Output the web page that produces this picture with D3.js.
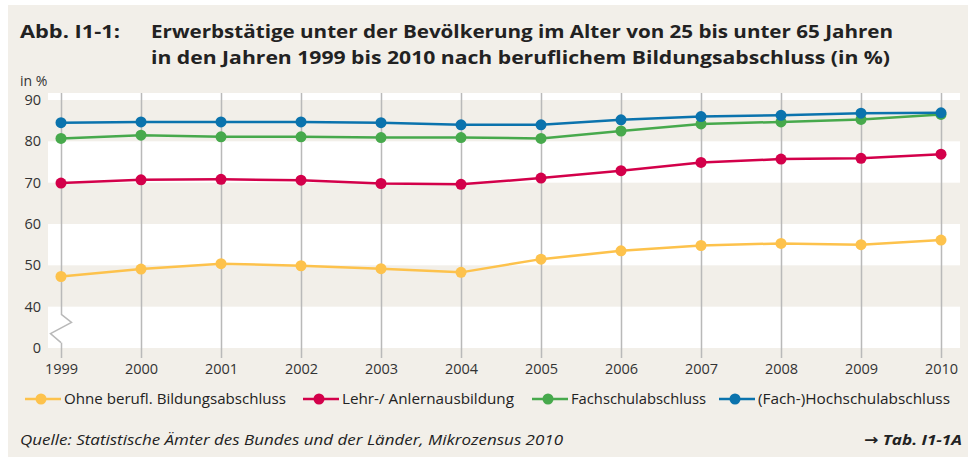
<!DOCTYPE html>
<html><head><meta charset="utf-8">
<script src="https://cdn.jsdelivr.net/npm/d3@7"></script>
<style>html,body{margin:0;padding:0;background:#fff}svg{display:block}</style>
</head><body>
<script>
const years = [1999,2000,2001,2002,2003,2004,2005,2006,2007,2008,2009,2010];
const ohne  = [47.3,49.1,50.4,49.9,49.2,48.3,51.5,53.5,54.8,55.3,55.0,56.1];
const lehr  = [69.9,70.7,70.8,70.6,69.8,69.6,71.1,72.9,74.9,75.7,75.9,76.9];
const fach  = [80.7,81.5,81.1,81.1,80.9,80.9,80.7,82.5,84.2,84.7,85.3,86.5];
const hoch  = [84.5,84.7,84.7,84.7,84.5,84.0,84.0,85.2,86.0,86.3,86.8,86.9];
const seriesNames = ["Ohne berufl. Bildungsabschluss","Lehr-/ Anlernausbildung","Fachschulabschluss","(Fach-)Hochschulabschluss"];
const seriesColors = ["#fdc24c","#d3004a","#47a94c","#0b73ad"];
const yTickValues = [30,40,50,60,70,80,90];           // 30 = broken-axis position labelled "0"
const yTickLabels = ["0","40","50","60","70","80","90"];
const titleLabel = "Abb. I1-1:";
const titleLines = ["Erwerbstätige unter der Bevölkerung im Alter von 25 bis unter 65 Jahren",
                    "in den Jahren 1999 bis 2010 nach beruflichem Bildungsabschluss (in %)"];
const sourceText = "Quelle: Statistische Ämter des Bundes und der Länder, Mikrozensus 2010";
const refText = "→ Tab. I1-1A";

const W = 968, H = 457;
const font = "'Open Sans', 'DejaVu Sans', sans-serif";
const svg = d3.select("body").append("svg").attr("width", W).attr("height", H);
svg.append("rect").attr("x",8).attr("y",5).attr("width",W-8).attr("height",H-5).attr("fill","#f2efe9");

const x = d3.scalePoint().domain(years).range([61, 941]);
const y = d3.scaleLinear().domain([30, 90]).range([348, 100]);
const plotL = 48, plotR = 960, plotTop = y(91.7), plotBot = y(30);

// title
const t = svg.append("g").attr("font-family", font).attr("font-weight", 700).attr("fill", "#222").attr("font-size", 18);
t.append("text").attr("x",20).attr("y",38).attr("textLength",100).attr("lengthAdjust","spacingAndGlyphs").text(titleLabel);
t.append("text").attr("x",151).attr("y",38).attr("textLength",742).attr("lengthAdjust","spacingAndGlyphs").text(titleLines[0]);
t.append("text").attr("x",151).attr("y",64).attr("textLength",739).attr("lengthAdjust","spacingAndGlyphs").text(titleLines[1]);

svg.append("text").attr("x",20).attr("y",86).attr("font-family",font).attr("font-size",14).attr("fill","#333").text("in %");

// bands
svg.append("rect").attr("x",plotL).attr("y",plotTop).attr("width",plotR-plotL).attr("height",plotBot-plotTop).attr("fill","#fff");
[[80,90],[60,70],[40,50]].forEach(b=>{
  svg.append("rect").attr("x",plotL).attr("y",y(b[1])).attr("width",plotR-plotL).attr("height",y(b[0])-y(b[1])).attr("fill","#f2efe9");
});

// vertical grid lines (x axis)
const xAxis = d3.axisBottom(x).tickSize(plotBot - plotTop + 10).tickPadding(6);
const gx = svg.append("g").attr("transform",`translate(0,${plotTop})`).call(xAxis);
gx.select(".domain").remove();
gx.selectAll(".tick line").attr("stroke","#b9b9b9").attr("stroke-width",1.5);
gx.selectAll(".tick text").attr("font-family",font).attr("font-size",14.5).attr("fill","#333");

// broken axis marker on 1999 line
const x0 = x(years[0]);
svg.append("rect").attr("x",x0-2).attr("y",y(38.2)).attr("width",4).attr("height",y(31.3)-y(38.2)).attr("fill","#fff");
svg.append("path").attr("fill","none").attr("stroke","#b9b9b9").attr("stroke-width",1.5)
  .attr("d",`M${x0},${y(38.2)}L${x0+10.5},${y(36.2)}L${x0-10.5},${y(33.5)}L${x0},${y(31.3)}`);

// y axis labels
const yAxis = d3.axisLeft(y).tickValues(yTickValues).tickSize(0).tickPadding(0).tickFormat((d,i)=>yTickLabels[i]);
const gy = svg.append("g").attr("transform","translate(41,0)").call(yAxis);
gy.select(".domain").remove();
gy.selectAll(".tick text").attr("font-family",font).attr("font-size",14.5).attr("fill","#333");

// lines
const allSeries = [ohne, lehr, fach, hoch];
const line = d3.line().x((d,i)=>x(years[i])).y(d=>y(d));
allSeries.forEach((s,k)=>{
  const g = svg.append("g");
  g.append("path").datum(s).attr("d",line).attr("fill","none").attr("stroke",seriesColors[k]).attr("stroke-width",2.5);
  g.selectAll("circle").data(s).join("circle").attr("cx",(d,i)=>x(years[i])).attr("cy",d=>y(d)).attr("r",5.5).attr("fill",seriesColors[k]);
});

// legend
const legX = [25, 303, 532, 719];
const legTextLen = [222, 172, 135, 192];
const lg = svg.append("g").attr("font-family",font).attr("font-size",14.5).attr("fill","#222");
seriesNames.forEach((n,k)=>{
  const lx = legX[k], ly = 399;
  lg.append("line").attr("x1",lx).attr("x2",lx+36).attr("y1",ly).attr("y2",ly).attr("stroke",seriesColors[k]).attr("stroke-width",2.5);
  lg.append("circle").attr("cx",lx+16).attr("cy",ly).attr("r",5.5).attr("fill",seriesColors[k]);
  lg.append("text").attr("x",lx+39).attr("y",ly+5).attr("textLength",legTextLen[k]).attr("lengthAdjust","spacingAndGlyphs").text(n);
});

// source
svg.append("text").attr("x",20).attr("y",445).attr("font-family",font).attr("font-style","italic").attr("font-size",15).attr("fill","#222")
  .attr("textLength",543).attr("lengthAdjust","spacingAndGlyphs").text(sourceText);
svg.append("text").attr("x",864).attr("y",445).attr("font-family",font).attr("font-style","italic").attr("font-weight",700).attr("font-size",15).attr("fill","#222")
  .attr("textLength",98).attr("lengthAdjust","spacingAndGlyphs").text(refText);
</script>
</body></html>
